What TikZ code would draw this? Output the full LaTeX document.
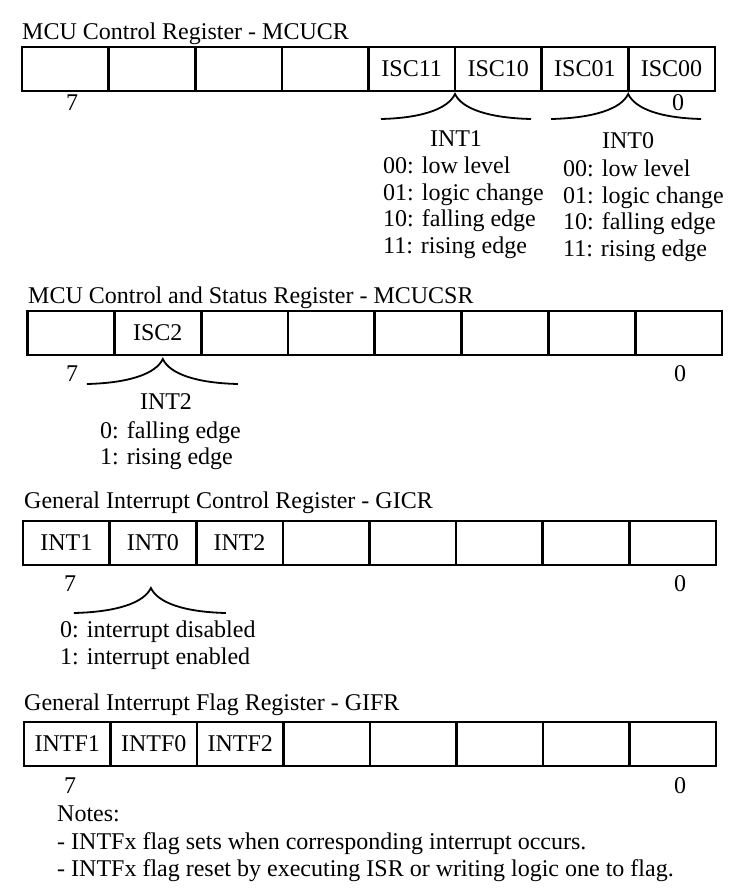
\documentclass[tikz,border=0pt]{standalone}
\usepackage{fontspec}
\setmainfont{Liberation Serif}
\usetikzlibrary{positioning,calc}

% curly brace under a register, tip at #1
\newcommand{\regbrace}[3]{%
  \draw[brace] ($(#1)+(-#2,25)$) .. controls ($(#1)+(-0.45*#2,24)$) and ($(#1)+(-7,15)$) .. (#1)
    .. controls ($(#1)+(7,15)$) and ($(#1)+(0.45*#3,24)$) .. ($(#1)+(#3,25)$);}

\begin{document}
\begin{tikzpicture}[x=1pt,y=-1pt,
  every node/.style={font=\fontsize{24}{26.5}\selectfont, inner sep=0pt},
  cell/.style={rectangle, draw, line width=2.6pt, minimum width=86.6pt, minimum height=44pt, outer sep=0pt},
  title/.style={anchor=base west},
  bitno/.style={anchor=base},
  desc/.style={anchor=north west, align=left},
  brace/.style={line width=1.8pt}]
\useasboundingbox (0,0) rectangle (741,896);

% MCUCR
\node[title] (mcucrtitle) at (22,40) {MCU Control Register - MCUCR};
\foreach \lbl [count=\i from 0] in {{},{},{},{},ISC11,ISC10,ISC01,ISC00}
  \node[cell] (mcucr\i) at ({65.3+86.6*\i},69) {\lbl};
\node[bitno] (mcucrhi) at (72,111) {7};
\node[bitno] (mcucrlo) at (678,111) {0};
\coordinate (int1tip) at ($(mcucr4.south east)+(0,3)$);
\coordinate (int0tip) at ($(mcucr6.south east)+(0,3)$);
\regbrace{int1tip}{74}{76}
\regbrace{int0tip}{77}{73}
\node[bitno] (int1lbl) at (456,147) {INT1};
\node[desc] (int1desc) at (383,157) {00: low level\\01: logic change\\10: falling edge\\11: rising edge};
\node[bitno] (int0lbl) at (628,149) {INT0};
\node[desc] (int0desc) at (563,160) {00: low level\\01: logic change\\10: falling edge\\11: rising edge};

% MCUCSR
\node[title] (mcucsrtitle) at (28,303) {MCU Control and Status Register - MCUCSR};
\foreach \lbl [count=\i from 0] in {{},ISC2,{},{},{},{},{},{}}
  \node[cell] (mcucsr\i) at ({71+86.8*\i},333) {\lbl};
\node[bitno] (mcucsrhi) at (72,381) {7};
\node[bitno] (mcucsrlo) at (680,381) {0};
\coordinate (int2tip) at ($(mcucsr1.south)+(5,4)$);
\regbrace{int2tip}{76}{75}
\node[bitno] (int2lbl) at (166,409) {INT2};
\node[desc] (int2desc) at (100,421) {0: falling edge\\1: rising edge};

% GICR
\node[title] (gicrtitle) at (24,508) {General Interrupt Control Register - GICR};
\foreach \lbl [count=\i from 0] in {INT1,INT0,INT2,{},{},{},{},{}}
  \node[cell] (gicr\i) at ({66.3+86.6*\i},543) {\lbl};
\node[bitno] (gicrhi) at (70,591) {7};
\node[bitno] (gicrlo) at (680,591) {0};
\coordinate (gicrtip) at ($(gicr1.south)+(-2,23)$);
\regbrace{gicrtip}{77}{75}
\node[desc] (gicrdesc) at (60,621) {0: interrupt disabled\\1: interrupt enabled};

% GIFR
\node[title] (gifrtitle) at (24,710) {General Interrupt Flag Register - GIFR};
\foreach \lbl [count=\i from 0] in {INTF1,INTF0,INTF2,{},{},{},{},{}}
  \node[cell] (gifr\i) at ({67.3+86.5*\i},744) {\lbl};
\node[bitno] (gifrhi) at (70,793) {7};
\node[bitno] (gifrlo) at (680,793) {0};
\node[desc, font=\fontsize{24}{27.5}\selectfont] (notes) at (57,806) {Notes:\\- INTFx flag sets when corresponding interrupt occurs.\\- INTFx flag reset by executing ISR or writing logic one to flag.};
\end{tikzpicture}
\end{document}
